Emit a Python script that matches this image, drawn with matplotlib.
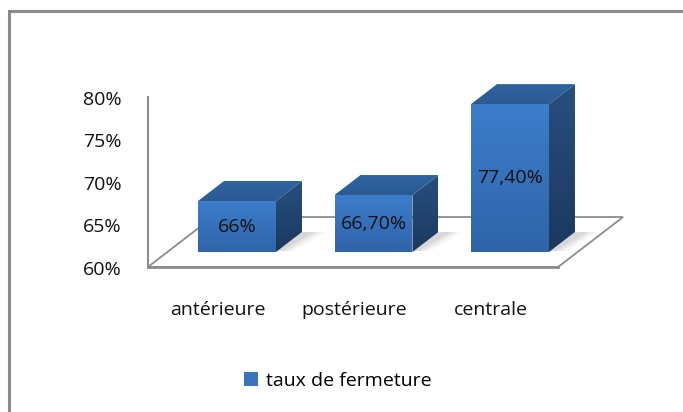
import matplotlib
matplotlib.use("Agg")
import matplotlib.pyplot as plt
import numpy as np
from matplotlib.patches import Polygon, Rectangle, Patch
from matplotlib.colors import LinearSegmentedColormap

plt.rcParams['font.family'] = ['Open Sans', 'DejaVu Sans']

categories = ["antérieure", "postérieure", "centrale"]
values = [66.0, 66.7, 77.4]
value_labels = ["66%", "66,70%", "77,40%"]
yticks = [60, 65, 70, 75, 80]
ytick_labels = ["60%", "65%", "70%", "75%", "80%"]
series_name = "taux de fermeture"

# pseudo 3d geometry (category units / percent units)
DX = 65 / 136.5      # full floor depth, x shift
DZ = 50 / 8.5        # full floor depth, vertical shift
T_FRONT, T_BACK = 0.3, 0.7
BAR_W = 0.571
ZMIN, ZMAX = 60, 80
XL, XR = -0.51, 2.495
FS = 14


def proj(x, z, t):
    return (x + t * DX, z + t * DZ)


def grad_fill(ax, pts, c_top, c_bot, z=2):
    poly = Polygon(pts, closed=True, facecolor="none", edgecolor="none", zorder=z)
    ax.add_patch(poly)
    xs = [p[0] for p in pts]
    ys = [p[1] for p in pts]
    cmap = LinearSegmentedColormap.from_list("g", [c_bot, c_top])
    grad = np.linspace(0, 1, 128).reshape(-1, 1)
    im = ax.imshow(grad, cmap=cmap, aspect="auto", origin="lower",
                   extent=(min(xs), max(xs), min(ys), max(ys)), zorder=z,
                   interpolation="bilinear")
    im.set_clip_path(poly)


fig = plt.figure(figsize=(6.83, 4.12), dpi=100)
ax = fig.add_axes([0, 0, 1, 1])
ax.set_xlim(-217.5 / 136.5, (683 - 217.5) / 136.5)
ax.set_ylim(60 - (412 - 267) / 8.5, 60 + 267 / 8.5)
ax.axis("off")

# outer chart frame
fig.patches.append(Rectangle((9 / 683, -0.1), 1.2, 1 - 11 / 412 + 0.1,
                             transform=fig.transFigure, fill=False,
                             edgecolor="#8a8a8a", linewidth=2.2))

# floor and vertical axis
gc = "#8c8c8c"
floor = [proj(XL, ZMIN, 0), proj(XR, ZMIN, 0), proj(XR, ZMIN, 1), proj(XL, ZMIN, 1)]
ax.add_patch(Polygon(floor, closed=True, fill=False, edgecolor=gc, linewidth=1.3, zorder=1))
fx, fy = zip(proj(XL, ZMIN, 0), proj(XR, ZMIN, 0))
ax.plot(fx, fy, color=gc, linewidth=2.0, zorder=1)
vx, vy = zip(proj(XL, ZMIN, 0), proj(XL, ZMAX, 0))
ax.plot(vx, vy, color=gc, linewidth=1.5, zorder=1)

for z, lab in zip(yticks, ytick_labels):
    ax.text(XL - 0.19, z - 0.3, lab, ha="right", va="center", fontsize=FS, color="#111111")

for i, (cat, v, vl) in enumerate(zip(categories, values, value_labels)):
    x0, x1 = i - BAR_W / 2, i + BAR_W / 2
    # soft shadow on the floor
    for k, a in enumerate([0.10, 0.08, 0.06]):
        s = 0.04 * (k + 1)
        sh = [proj(x1, ZMIN, T_FRONT + 0.02), proj(x1 + s, ZMIN, T_FRONT + 0.02),
              proj(x1 + s + 0.05, ZMIN, T_BACK), proj(x1, ZMIN, T_BACK)]
        ax.add_patch(Polygon(sh, closed=True, facecolor="#555555", edgecolor="none",
                             alpha=a, zorder=1.5))
    front = [proj(x0, ZMIN, T_FRONT), proj(x1, ZMIN, T_FRONT),
             proj(x1, v, T_FRONT), proj(x0, v, T_FRONT)]
    side = [proj(x1, ZMIN, T_FRONT), proj(x1, ZMIN, T_BACK),
            proj(x1, v, T_BACK), proj(x1, v, T_FRONT)]
    top = [proj(x0, v, T_FRONT), proj(x1, v, T_FRONT),
           proj(x1, v, T_BACK), proj(x0, v, T_BACK)]
    grad_fill(ax, front, "#3d7dcb", "#2f64a9", z=3 + i)
    grad_fill(ax, side, "#27507f", "#1b385f", z=3 + i)
    grad_fill(ax, top, "#2f63a0", "#2b5a93", z=3 + i)
    cx, cy = proj(i, (ZMIN + v) / 2, T_FRONT)
    ax.text(cx, cy, vl, ha="center", va="center", fontsize=FS, color="#111111", zorder=10)
    ax.text(i, ZMIN - 5.1, cat, ha="center", va="center", fontsize=FS, color="#111111")

handle = Patch(facecolor="#3a74bd", edgecolor="none")
leg = ax.legend([handle], [series_name], loc="center left",
                bbox_to_anchor=(244 / 683, 1 - 381 / 412), frameon=False,
                fontsize=FS, handlelength=0.7, handleheight=0.7,
                handletextpad=0.45, borderpad=0, borderaxespad=0)

fig.savefig("out.png", dpi=100)
